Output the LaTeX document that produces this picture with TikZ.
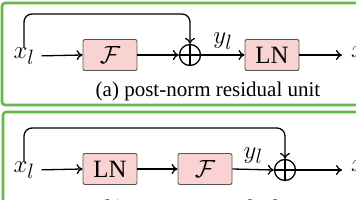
\documentclass[tikz,border=0pt]{standalone}
\usepackage{amsmath}
\usepackage{fontspec}
\setmainfont{Liberation Serif}
\usetikzlibrary{arrows.meta}
\definecolor{pinkfill}{HTML}{F8D3D2}
\definecolor{boxedge}{HTML}{555555}
\definecolor{frame}{HTML}{63BA4C}
\tikzset{
  blk/.style={draw=boxedge, fill=pinkfill, line width=0.9pt, rounded corners=2pt,
    minimum width=54pt, minimum height=31pt, inner sep=0pt,
    font=\fontsize{24.88}{28}\selectfont},
  lbl/.style={inner sep=0pt, font=\fontsize{24.88}{28}\selectfont},
  captext/.style={inner sep=0pt, font=\fontsize{21}{24}\selectfont},
  sumnode/.style={draw=black, circle, line width=1.3pt, minimum size=21pt, inner sep=0pt,
    path picture={\draw[line width=1.3pt] (path picture bounding box.north) -- (path picture bounding box.south)
      (path picture bounding box.west) -- (path picture bounding box.east);}},
  conn/.style={line width=1.3pt, -{To[length=6pt,width=10pt]}},
  skip/.style={conn, rounded corners=8pt},
  panel/.style={draw=frame, line width=2.6pt, rounded corners=3pt}
}
\begin{document}
\begin{tikzpicture}[x=1pt,y=-1pt]
\useasboundingbox (0,0) rectangle (356,200);
\fill[white] (0,0) rectangle (356,200);
% panels
\draw[panel] (2,3) rectangle (390,105);
\draw[panel] (3,112) rectangle (390,260);

% ---- (a) post-norm
\node[lbl] (xa) at (24,56) {$x_l$};
\node[blk] (Fa) at (110,55) {$\mathcal{F}$};
\node[sumnode] (sa) at (190,55) {};
\node[blk] (LNa) at (272,55) {LN};
\node[lbl, anchor=west] (oa) at (351,56) {$x_{l+1}$};
\coordinate (ta) at (0,14);
\draw[conn, shorten <=7pt] (xa.east) -- (Fa.west);
\draw[conn] (Fa.east) -- (sa.west);
\draw[conn] (sa.east) -- node[lbl, above=5pt] (ya) {$y_l$} (LNa.west);
\draw[conn, shorten >=9pt] (LNa.east) -- (oa.west |- LNa.east);
\draw[skip] (xa.north) |- (sa.north |- ta) -- (sa.north);
\node[captext] (capa) at (208,91) {(a) post-norm residual unit};

% ---- (b) pre-norm
\node[lbl] (xb) at (24,170) {$x_l$};
\node[blk] (LNb) at (110,169) {LN};
\node[blk] (Fb) at (205,169) {$\mathcal{F}$};
\node[sumnode] (sb) at (285,170) {};
\node[lbl, anchor=west] (ob) at (351,170) {$x_{l+1}$};
\coordinate (tb) at (0,128);
\draw[conn, shorten <=7pt] (xb.east) -- (LNb.west);
\draw[conn] (LNb.east) -- (Fb.west);
\draw[conn] (Fb.east) -- node[lbl, above=5pt] (yb) {$y_l$} (sb.west);
\draw[conn, shorten >=9pt] (sb.east) -- (ob.west |- sb.east);
\draw[skip] (xb.north) |- (sb.north |- tb) -- (sb.north);
\node[captext] (capb) at (208,209) {(b) pre-norm residual unit};
\end{tikzpicture}
\end{document}
